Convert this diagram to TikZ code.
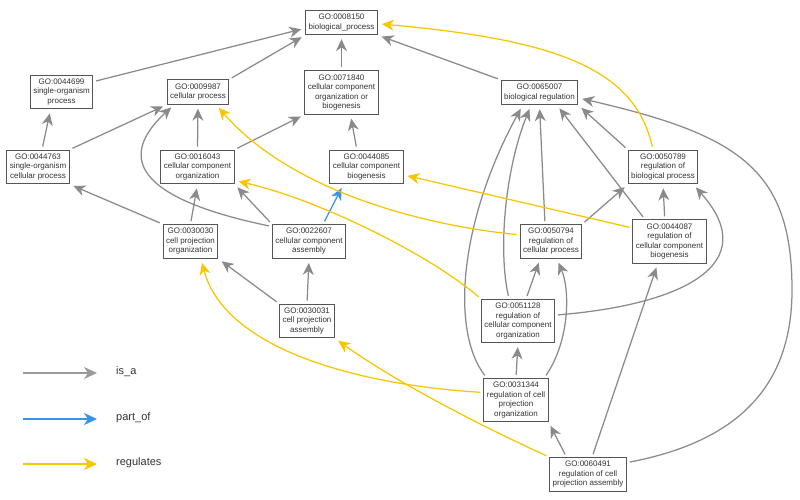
\documentclass[tikz,border=0pt]{standalone}
\usepackage{fontspec}
\setmainfont{Liberation Sans}
\usetikzlibrary{arrows.meta}
\definecolor{isacol}{HTML}{8A8A8A}
\definecolor{legisacol}{HTML}{9A9A9A}
\definecolor{partcol}{HTML}{3A92E6}
\definecolor{regcol}{HTML}{F7C600}
\definecolor{boxcol}{HTML}{555555}
\definecolor{txtcol}{HTML}{333333}
\tikzset{
  gobox/.style={draw=boxcol, line width=1pt, fill=white, align=center,
    inner xsep=3pt, inner ysep=3.8pt, font=\fontsize{8}{9.5}\selectfont, text=txtcol},
  edgeline/.style={line width=1.25pt, shorten >=4pt, shorten <=3pt,
    -{Stealth[length=12pt,width=11pt,inset=3.8pt]}},
  isa/.style={edgeline, isacol},
  partof/.style={edgeline, partcol},
  reg/.style={edgeline, regcol},
  legarrow/.style={line width=1.25pt, -{Stealth[length=13pt,width=12pt,inset=4pt]}},
  legtext/.style={anchor=west, font=\fontsize{11}{13}\selectfont, text=txtcol, inner sep=0pt}
}
\begin{document}
\begin{tikzpicture}[x=1pt, y=-1pt]
\useasboundingbox (0,0) rectangle (800,500);
% nodes
\node[gobox] (n8150)  at (341.5,22.5) {GO:0008150\\biological\_process};
\node[gobox] (n44699) at (61.5,92)    {GO:0044699\\single-organism\\process};
\node[gobox] (n9987)  at (198,92)     {GO:0009987\\cellular process};
\node[gobox] (n71840) at (341.5,92.5) {GO:0071840\\cellular component\\organization or\\biogenesis};
\node[gobox] (n44763) at (38,167)     {GO:0044763\\single-organism\\cellular process};
\node[gobox] (n16043) at (197.5,167)  {GO:0016043\\cellular component\\organization};
\node[gobox] (n44085) at (366.5,167)  {GO:0044085\\cellular component\\biogenesis};
\node[gobox] (n65007) at (539.5,92.5) {GO:0065007\\biological regulation};
\node[gobox] (n50789) at (663,167)    {GO:0050789\\regulation of\\biological process};
\node[gobox] (n30030) at (190.5,241.5){GO:0030030\\cell projection\\organization};
\node[gobox] (n22607) at (309,241.5)  {GO:0022607\\cellular component\\assembly};
\node[gobox] (n30031) at (307,321)    {GO:0030031\\cell projection\\assembly};
\node[gobox] (n50794) at (551,241.5)  {GO:0050794\\regulation of\\cellular process};
\node[gobox] (n44087) at (669.5,241.5){GO:0044087\\regulation of\\cellular component\\biogenesis};
\node[gobox] (n51128) at (518,321)    {GO:0051128\\regulation of\\cellular component\\organization};
\node[gobox] (n31344) at (516,400)    {GO:0031344\\regulation of cell\\projection\\organization};
\node[gobox] (n60491) at (588,474.5)  {GO:0060491\\regulation of cell\\projection assembly};
% is_a
\draw[isa] (n44699.18) -- (n8150.189);
\draw[isa] (n9987.north east) -- (n8150.south west);
\draw[isa] (n71840.north) -- (n8150.south);
\draw[isa] (n65007.north west) -- (n8150.south east);
\draw[isa] (n44763.77) -- (n44699.238);
\draw[isa] (n44763.north east) -- (n9987.south west);
\draw[isa] (n16043.north) -- (n9987.south);
\draw[isa] (n16043.north east) -- (n71840.south west);
\draw[isa] (n44085.119) -- (n71840.292);
\draw[isa] (n30030.north west) -- (n44763.south east);
\draw[isa] (n30030.north) -- (n16043.south);
\draw[isa] (n22607.north west) -- (n16043.south east);
\draw[isa] (n22607.158) .. controls (120,195) and (125,150) .. (n9987.208);
\draw[isa] (n30031.north west) -- (n30030.south east);
\draw[isa] (n30031.north) -- (n22607.south);
\draw[isa] (n50794.109) -- (n65007.south);
\draw[isa] (n51128.112) .. controls (498,250) and (505,170) .. (n65007.236);
\draw[isa] (n31344.143) .. controls (450,330) and (460,220) .. (n65007.217);
\draw[isa] (n44087.138) -- (n65007.324);
\draw[isa] (n50789.north west) -- (n65007.south east);
\draw[isa] (n60491.17) .. controls (745,440) and (792,380) .. (792,290)
   .. controls (792,170) and (740,135) .. (n65007.352);
\draw[isa] (n50794.north east) -- (n50789.south west);
\draw[isa] (n44087.102) -- (n50789.south);
\draw[isa] (n51128.9) .. controls (680,305) and (765,265) .. (n50789.330);
\draw[isa] (n51128.70) -- (n50794.238);
\draw[isa] (n31344.north) -- (n51128.south);
\draw[isa] (n31344.38) .. controls (570,340) and (570,290) .. (n50794.289);
\draw[isa] (n60491.141) -- (n31344.south east);
\draw[isa] (n60491.77) -- (n44087.242);
% part_of
\draw[partof] (n22607.51) -- (n44085.217);
% regulates
\draw[reg] (n50789.120) .. controls (635,70) and (560,40) .. (n8150.358);
\draw[reg] (n44087.160) -- (n44085.348);
\draw[reg] (n50794.168) .. controls (420,225) and (290,190) .. (n9987.325);
\draw[reg] (n51128.north west) .. controls (430,255) and (320,200) .. (n16043.340);
\draw[reg] (n31344.167) .. controls (360,385) and (225,350) .. (n30030.301);
\draw[reg] (n60491.north west) .. controls (490,430) and (400,385) .. (n30031.south east);
% legend
\coordinate (lg1a) at (23,373); \coordinate (lg1b) at (97,373);
\coordinate (lg2a) at (23,419); \coordinate (lg2b) at (97,419);
\coordinate (lg3a) at (23,464); \coordinate (lg3b) at (97,464);
\draw[legarrow, legisacol] (lg1a) -- (lg1b);
\draw[legarrow, partcol] (lg2a) -- (lg2b);
\draw[legarrow, regcol] (lg3a) -- (lg3b);
\node[legtext] (lgt1) at (116,372) {is\_a};
\node[legtext] (lgt2) at (116,418) {part\_of};
\node[legtext] (lgt3) at (116,463) {regulates};
\end{tikzpicture}
\end{document}
